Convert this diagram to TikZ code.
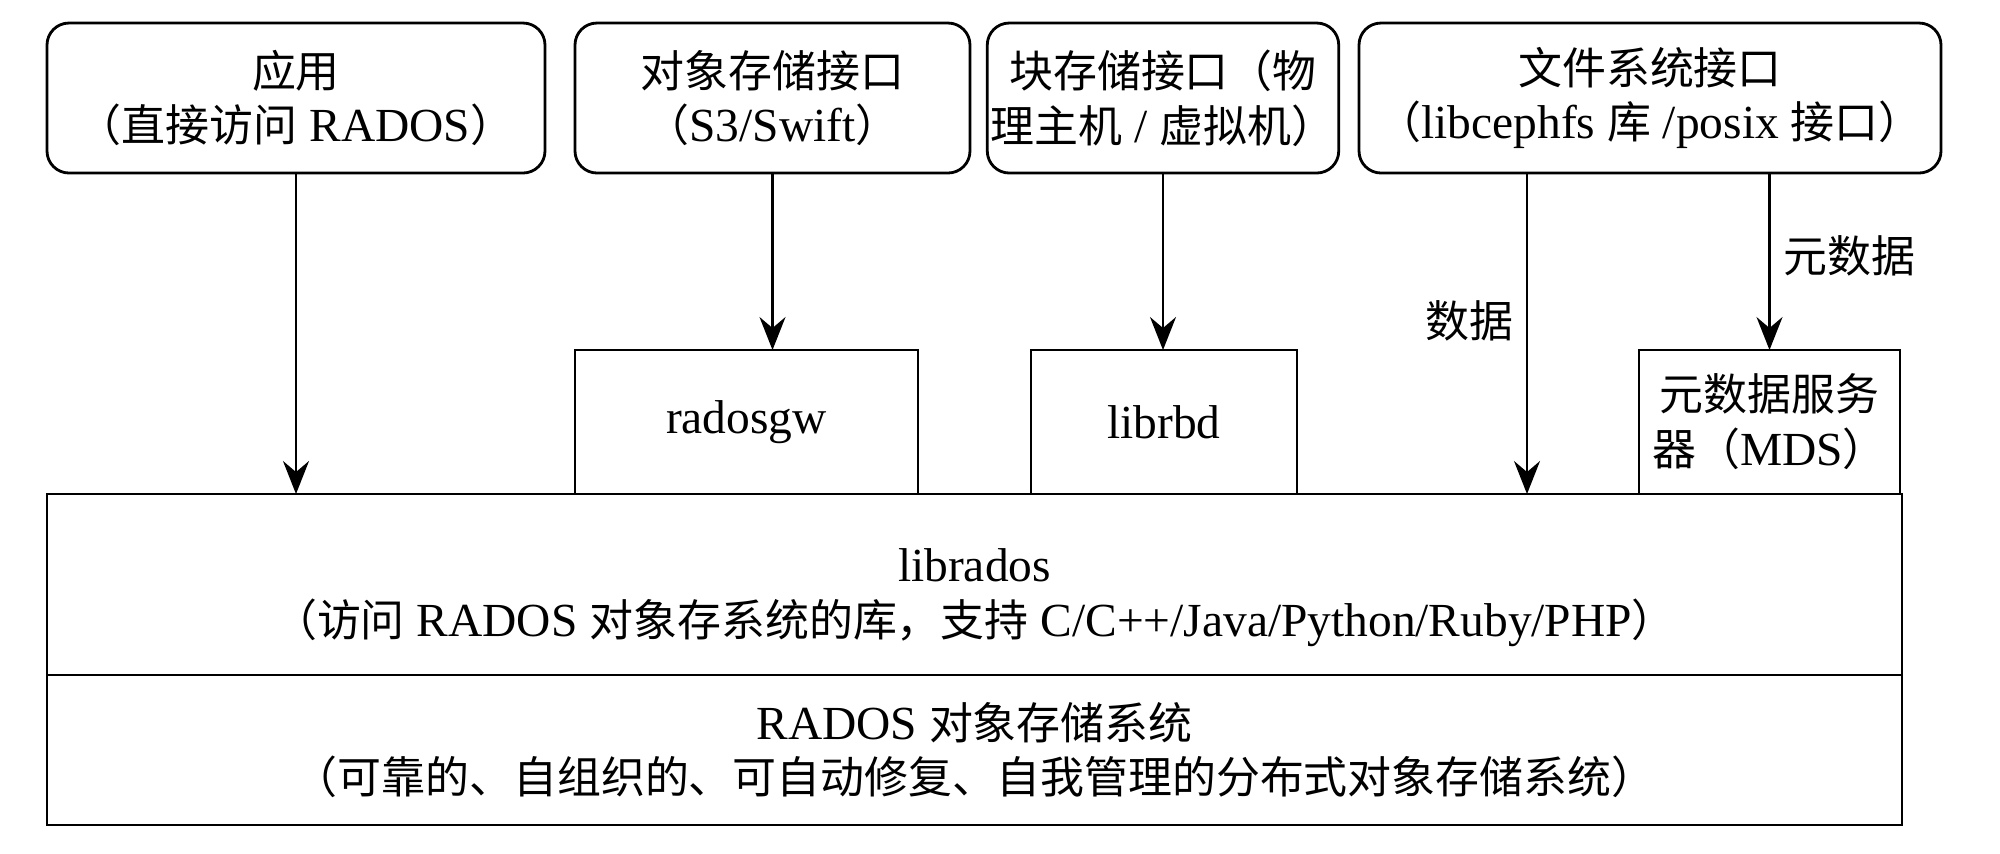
\documentclass[tikz,border=0pt]{standalone}
\usepackage{fontspec}
\setmainfont{Liberation Serif}[Scale=1.08]
\newfontfamily\cjk{Noto Sans CJK SC}
\newcommand\zh[1]{{\cjk #1}}
\usetikzlibrary{arrows.meta,positioning}

\begin{document}
\begin{tikzpicture}[->, >={Stealth[length=3.3mm,width=2.6mm,inset=1.1mm]}, auto,
  font=\fontsize{12.5}{15.6}\selectfont,
  rbox/.style={draw, line width=0.8pt, rounded corners=2.2mm, align=center, minimum height=1.5cm, inner sep=1pt, outer sep=0pt},
  sbox/.style={draw, line width=0.7pt, align=center, minimum height=1.44cm, inner sep=1pt, outer sep=0pt},
  layer/.style={draw, line width=0.8pt, align=center, minimum width=18.55cm, inner sep=1pt, outer sep=0pt}]
\useasboundingbox (0,0) rectangle (20,-8.53);
% top row
\node (app)[rbox, minimum width=4.98cm] at (2.96,-0.98) {\zh{应用}\\\zh{（直接访问} RADOS\zh{）}};
\node (obj)[rbox, minimum width=3.95cm] at (7.725,-0.98) {\zh{对象存储接口}\\\zh{（}S3/Swift\zh{）}};
\node (blk)[rbox, minimum width=3.44cm] at (11.63,-0.98) {\zh{块存储接口（物}\\\zh{理主机} / \zh{虚拟机）}};
\node (fs)[rbox, minimum width=5.82cm] at (16.50,-0.98) {\zh{文件系统接口}\\\zh{（}libcephfs \zh{库} /posix \zh{接口）}};
% layers
\node (lib)[layer, minimum height=1.81cm] at (9.745,-5.845) {\rule{0pt}{0.6cm}librados\\\zh{（访问} RADOS \zh{对象存系统的库，支持} C/C++/Java/Python/Ruby/PHP\zh{）}};
\node (rados)[layer, minimum height=1.5cm, below=0cm of lib] {RADOS \zh{对象存储系统}\\\zh{（可靠的、自组织的、可自动修复、自我管理的分布式对象存储系统）}};
% boxes on librados
\node (gw)[sbox, minimum width=3.43cm, anchor=south] at (7.465,-4.94) {radosgw};
\node (rbd)[sbox, minimum width=2.66cm, anchor=south] at (11.64,-4.94) {librbd};
\node (mds)[sbox, minimum width=2.61cm, anchor=south] at (17.695,-4.94) {\zh{元数据服务}\\\zh{器（}MDS\zh{）}};
\path[line width=0.6pt]
	(app.south) edge (app.south |- lib.north)
	(obj.south) edge (obj.south |- gw.north)
	(blk.south) edge (blk.south |- rbd.north)
	([xshift=-1.23cm]fs.south) edge[swap] node[pos=0.46]{\zh{数据}} ([xshift=-1.23cm]fs.south |- lib.north)
	(mds.north |- fs.south) edge node[pos=0.47]{\zh{元数据}} (mds.north);
\end{tikzpicture}
\end{document}
